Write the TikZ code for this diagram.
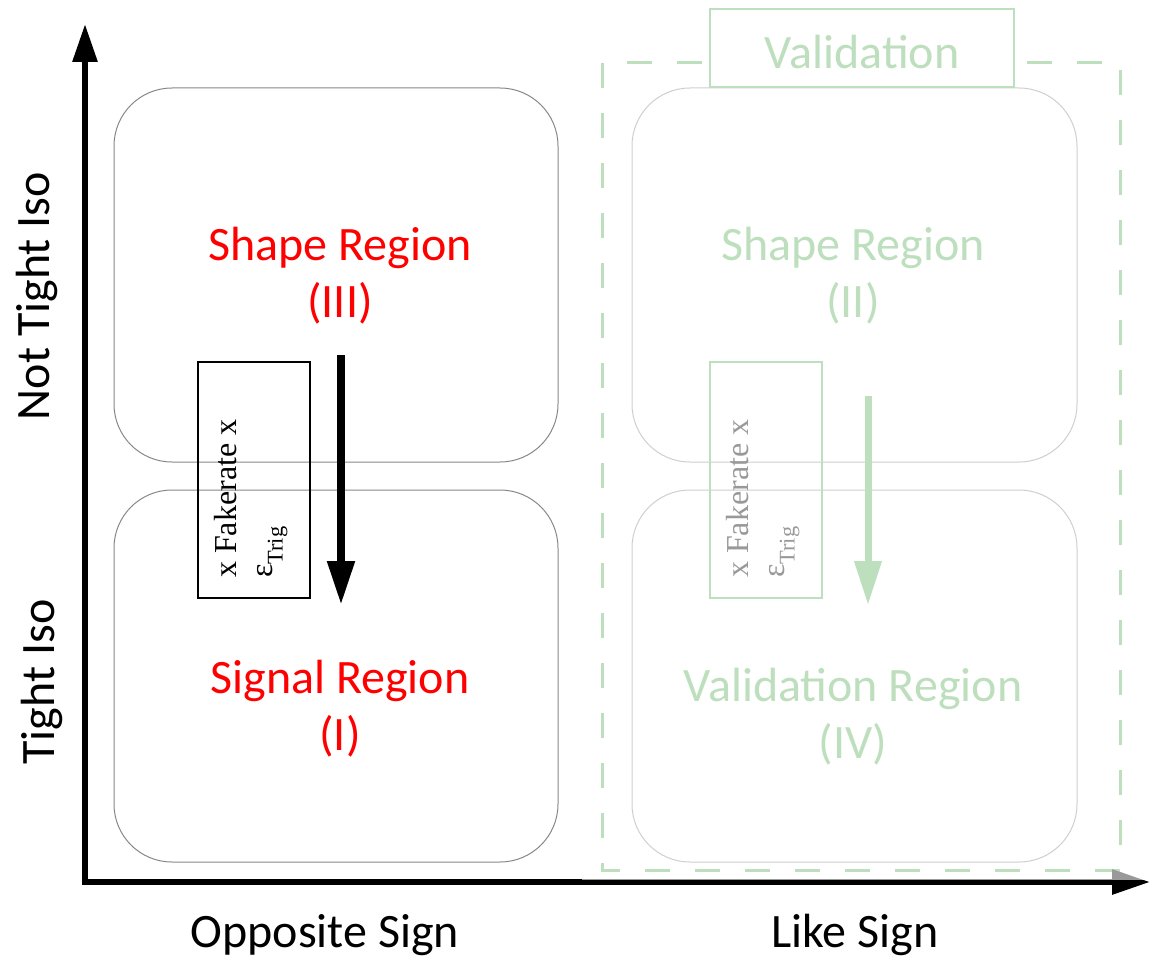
\documentclass[tikz,border=0pt]{standalone}
\usepackage{fontspec}
\setmainfont{Carlito}
\newfontfamily\serifx{Liberation Serif}
\usetikzlibrary{arrows.meta}
\definecolor{vgreen}{RGB}{92,177,92}
\definecolor{rgray}{RGB}{135,135,135}
\definecolor{ored}{RGB}{255,0,0}
\begin{document}
\begin{tikzpicture}[x=1pt,y=-1pt,
  region/.style={draw=rgray, line width=1pt, rounded corners=58pt},
  big/.style={font=\fontsize{48}{57}\selectfont, align=center, inner sep=0pt},
  axislabel/.style={font=\fontsize{48}{50}\selectfont, inner sep=0pt},
  axisline/.style={line width=6pt, -{Triangle[length=38pt,width=24pt]}},
  fbox/.style={draw, line width=2pt, minimum width=112pt, minimum height=236pt, inner sep=0pt},
  ftext/.style={rotate=90, anchor=north west, align=left, inner sep=0pt,
     font=\serifx\fontsize{32}{36}\selectfont},
  flow/.style={line width=8pt, -{Triangle[length=44pt,width=26pt]}}
]
\useasboundingbox (0,0) rectangle (1157,958);

% regions
\draw[region] (114,88) rectangle (558,462);
\draw[region] (114,490) rectangle (558,862);
\draw[region] (632,88) rectangle (1077,462);
\draw[region] (632,490) rectangle (1077,862);

% left texts
\node[big, text=ored] (shapeIII) at (340,276) {Shape Region\\(III)};
\node[big, text=ored] (sigI) at (340,709) {Signal Region\\(I)};

% left fakerate box
\node[fbox] (fboxL) at (254,480) {};
\node[ftext] (ftL) at (214,578) {x Fakerate x\\ε\raisebox{-4pt}{\textsubscript{Trig}}};
\coordinate (aLs) at (341,355);
\coordinate (aLe) at (341,605);
\draw[flow] (aLs) -- (aLe);

% right side (drawn in full colour, faded by overlay)
\draw[vgreen, line width=3pt, dash pattern=on 25pt off 25pt] (602,63) rectangle (1120,870);
\node[draw=vgreen, line width=2.5pt, fill=white, minimum width=304pt, minimum height=78pt, inner sep=0pt] (valbox) at (862,48) {};
\node[big, text=vgreen] (valtxt) at (862,52) {Validation};
\node[big, text=vgreen] (shapeII) at (853,276) {Shape Region\\(II)};
\node[big, text=vgreen] (valIV) at (853,717) {Validation Region\\(IV)};
\node[fbox, draw=vgreen] (fboxR) at (766,480) {};
\node[ftext] (ftR) at (726,578) {x Fakerate x\\ε\raisebox{-4pt}{\textsubscript{Trig}}};
\coordinate (aRs) at (868,396);
\coordinate (aRe) at (868,605);
\draw[flow, vgreen, line width=7pt] (aRs) -- (aRe);

% axes
\coordinate (origin) at (85,882);
\coordinate (ytop) at (85,24);
\coordinate (xend) at (1150,882);
\draw[axisline] ([yshift=3pt]origin) -- (ytop);
\draw[axisline] ([xshift=-3pt]origin) -- (xend);

% fading overlay
\fill[white, opacity=0.6] (582,0) rectangle (1157,880);

% axis labels
\node[axislabel, rotate=90] (nti) at (37,296) {Not Tight Iso};
\node[axislabel, rotate=90] (ti) at (42,682) {Tight Iso};
\node[axislabel] (os) at (325,935) {Opposite Sign};
\node[axislabel] (ls) at (855,935) {Like Sign};
\end{tikzpicture}
\end{document}
